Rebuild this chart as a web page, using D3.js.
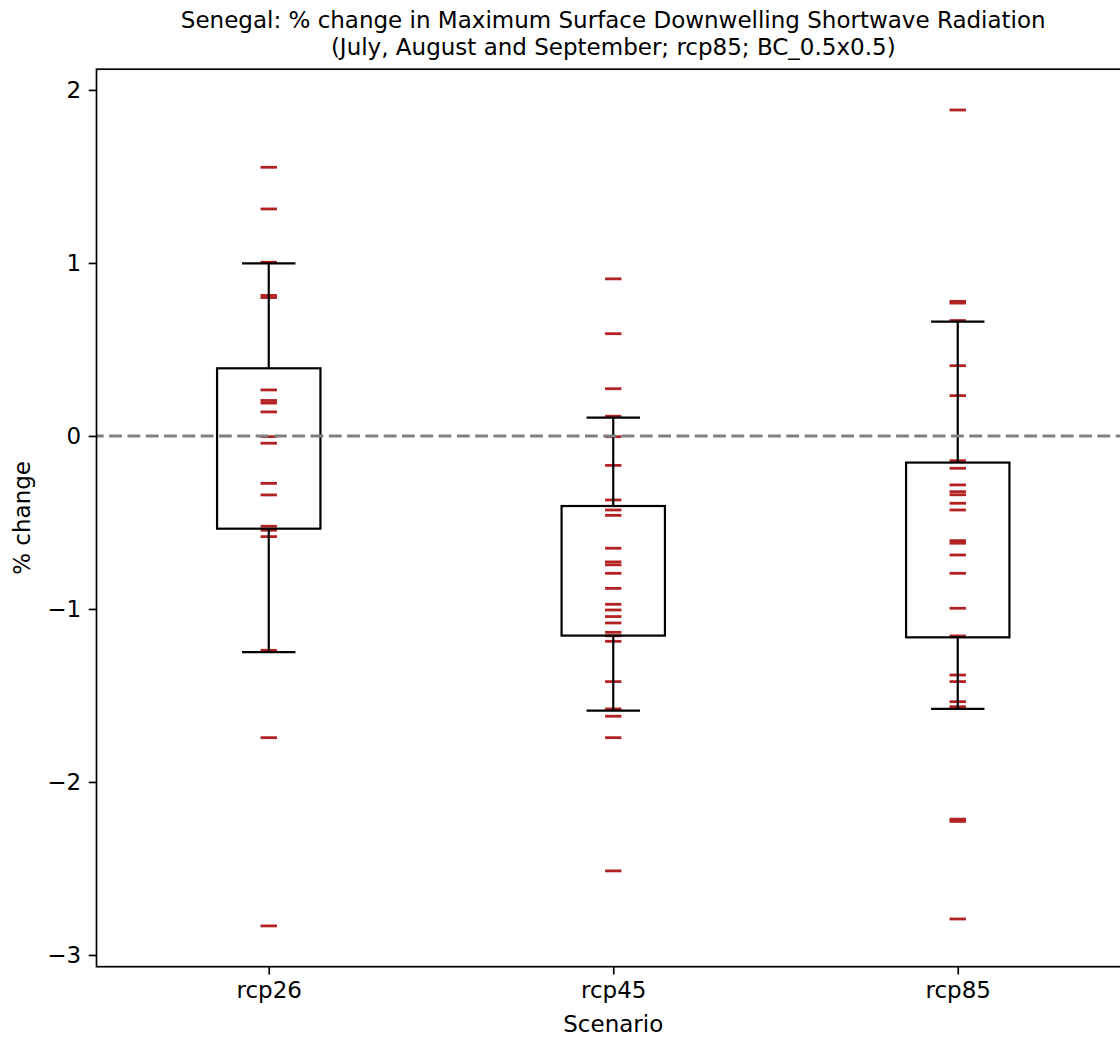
<!DOCTYPE html>
<html>
<head>
<meta charset="utf-8">
<script src="https://cdn.jsdelivr.net/npm/d3@7"></script>
<style>
  html, body { margin: 0; padding: 0; background: #fff; }
  svg { display: block; font-family: "DejaVu Sans", sans-serif; }
</style>
</head>
<body>
<svg id="chart" width="1120" height="1038"></svg>
<script>
// ---- data ----
const categories = ["rcp26", "rcp45", "rcp85"];
const rcp26 = [1.553, 1.312, 1.004, 0.812, 0.800, 0.266, 0.205, 0.190, 0.139, -0.004, -0.042,
  -0.274, -0.341, -0.522, -0.545, -0.582, -1.239, -1.744, -2.832];
const rcp45 = [0.908, 0.591, 0.273, 0.114, -0.004, -0.170, -0.370, -0.428, -0.459, -0.649, -0.728,
  -0.745, -0.794, -0.881, -0.973, -1.006, -1.044, -1.081, -1.135, -1.155, -1.187, -1.420, -1.578,
  -1.620, -1.744, -2.514];
const rcp85 = [1.884, 0.778, 0.768, 0.667, 0.406, 0.233, -0.143, -0.187, -0.283, -0.322, -0.340,
  -0.389, -0.428, -0.605, -0.620, -0.688, -0.794, -0.996, -1.156, -1.382, -1.420, -1.536, -1.565,
  -2.215, -2.228, -2.792];
const seriesValues = [rcp26, rcp45, rcp85];
// box summary (as drawn)
const q1 = [-0.536, -1.154, -1.164];
const q3 = [0.391, -0.405, -0.154];
const whiskerLow = [-1.250, -1.588, -1.578];
const whiskerHigh = [0.998, 0.106, 0.661];
const yTicks = [2, 1, 0, -1, -2, -3];
const titleLines = ["Senegal: % change in Maximum Surface Downwelling Shortwave Radiation",
  "(July, August and September; rcp85; BC_0.5x0.5)"];
const xLabel = "Scenario";
const yLabel = "% change";

(function () {
  const svg = d3.select("#chart");
  const pLeft = 96.5, pRight = 1130, pTop = 69.2, pBottom = 966.7;
  const fontSize = 23;

  const all = seriesValues.flat();
  const lo = d3.min(all), hi = d3.max(all), pad = (hi - lo) * 0.05;
  const x = d3.scaleLinear().domain([0.5, 3.5]).range([pLeft, pRight]);
  const y = d3.scaleLinear().domain([lo - pad, hi + pad]).range([pBottom, pTop]);

  const boxW = 0.3, capW = 0.155, markHalf = 8.2;

  // points
  const marks = svg.append("g");
  seriesValues.forEach((vals, i) => {
    marks.selectAll(null).data(vals).enter().append("line")
      .attr("x1", x(i + 1) - markHalf).attr("x2", x(i + 1) + markHalf)
      .attr("y1", d => y(d)).attr("y2", d => y(d))
      .attr("stroke", "#b22222").attr("stroke-width", 2.8);
  });

  // boxes
  const boxes = svg.append("g").attr("stroke", "#000").attr("stroke-width", 2.2).attr("fill", "none");
  categories.forEach((c, i) => {
    const cx = x(i + 1);
    boxes.append("rect")
      .attr("x", x(i + 1 - boxW / 2)).attr("width", x(i + 1 + boxW / 2) - x(i + 1 - boxW / 2))
      .attr("y", y(q3[i])).attr("height", y(q1[i]) - y(q3[i]));
    boxes.append("line").attr("x1", cx).attr("x2", cx).attr("y1", y(q3[i])).attr("y2", y(whiskerHigh[i]));
    boxes.append("line").attr("x1", cx).attr("x2", cx).attr("y1", y(q1[i])).attr("y2", y(whiskerLow[i]));
    [whiskerHigh[i], whiskerLow[i]].forEach(w => {
      boxes.append("line")
        .attr("x1", x(i + 1 - capW / 2)).attr("x2", x(i + 1 + capW / 2))
        .attr("y1", y(w)).attr("y2", y(w));
    });
  });

  // zero line
  svg.append("line")
    .attr("x1", pLeft).attr("x2", pRight).attr("y1", y(0)).attr("y2", y(0))
    .attr("stroke", "#808080").attr("stroke-width", 3)
    .attr("stroke-dasharray", "12.8,5.5").attr("stroke-dashoffset", 5.6);

  // axes
  const yAxis = d3.axisLeft(y).tickValues(yTicks).tickSize(7.8).tickPadding(7.5).tickFormat(d3.format("d"));
  const xAxis = d3.axisBottom(x).tickValues([1, 2, 3]).tickSize(7.8).tickPadding(7.5)
    .tickFormat((d, i) => categories[i]);

  const gy = svg.append("g").attr("transform", `translate(${pLeft},0)`).call(yAxis);
  const gx = svg.append("g").attr("transform", `translate(0,${pBottom})`).call(xAxis);
  [gx, gy].forEach(g => {
    g.select(".domain").remove();
    g.selectAll(".tick line").attr("stroke", "#000").attr("stroke-width", 1.7);
    g.selectAll(".tick text").attr("fill", "#000").style("font-size", fontSize + "px")
      .style("font-family", "DejaVu Sans, sans-serif");
  });

  // spines
  svg.append("rect")
    .attr("x", pLeft).attr("y", pTop).attr("width", pRight - pLeft).attr("height", pBottom - pTop)
    .attr("fill", "none").attr("stroke", "#000").attr("stroke-width", 1.7);

  // labels
  const cxPlot = (pLeft + pRight) / 2;
  svg.append("text").attr("x", cxPlot).attr("y", 28).attr("text-anchor", "middle")
    .style("font-size", fontSize + "px").text(titleLines[0]);
  svg.append("text").attr("x", cxPlot).attr("y", 55).attr("text-anchor", "middle")
    .style("font-size", fontSize + "px").text(titleLines[1]);
  svg.append("text").attr("x", cxPlot).attr("y", 1032).attr("text-anchor", "middle")
    .style("font-size", fontSize + "px").text(xLabel);
  svg.append("text").attr("transform", `translate(30,${(pTop + pBottom) / 2}) rotate(-90)`)
    .attr("text-anchor", "middle").style("font-size", fontSize + "px").text(yLabel);
})();
</script>
</body>
</html>
